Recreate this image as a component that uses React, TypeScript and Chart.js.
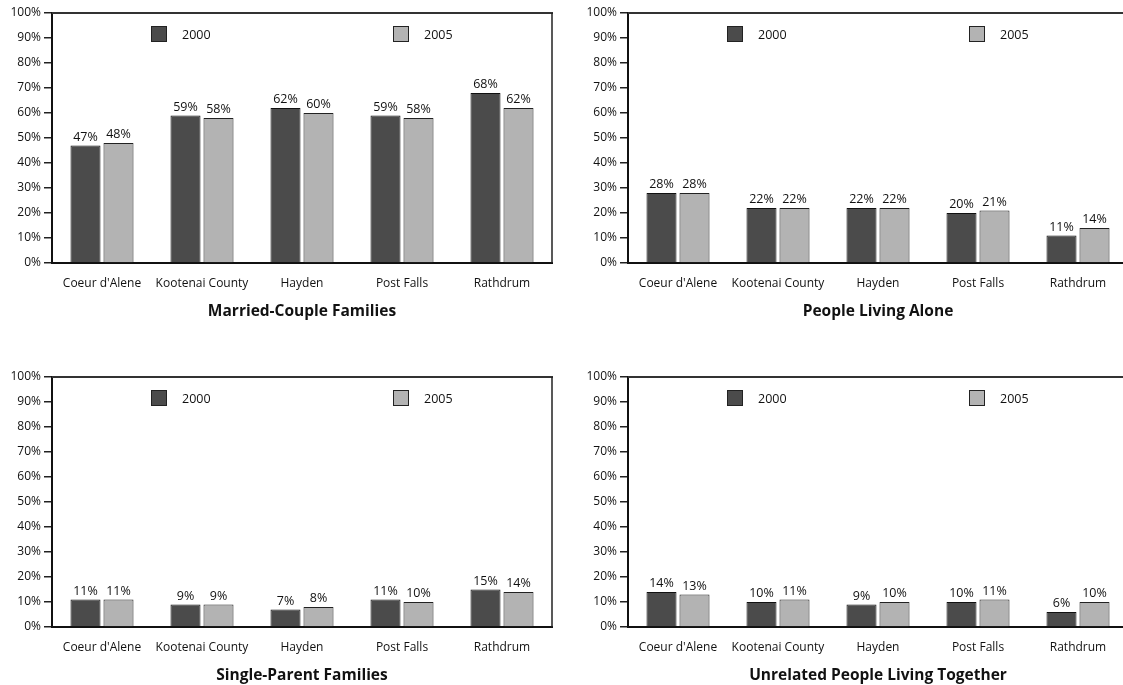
import { useEffect, useRef } from "react";
import { Chart, registerables } from "chart.js";

Chart.register(...registerables);

// Household composition shares by place, 2000 vs 2005
const categories = ["Coeur d'Alene", "Kootenai County", "Hayden", "Post Falls", "Rathdrum"];
const years = ["2000", "2005"];

const marriedCouple2000 = [47, 59, 62, 59, 68];
const marriedCouple2005 = [48, 58, 60, 58, 62];
const livingAlone2000 = [28, 22, 22, 20, 11];
const livingAlone2005 = [28, 22, 22, 21, 14];
const singleParent2000 = [11, 9, 7, 11, 15];
const singleParent2005 = [11, 9, 8, 10, 14];
const unrelated2000 = [14, 10, 9, 10, 6];
const unrelated2005 = [13, 11, 10, 11, 10];

const yMin = 0;
const yMax = 100;
const yStep = 10;

const FONT = "'Open Sans', 'Noto Sans', sans-serif";
const DARK = "#4b4b4b";
const LIGHT = "#b3b3b3";

type PanelSpec = {
  title: string;
  first: number[];
  second: number[];
  left: number;
  top: number;
};

const panels: PanelSpec[] = [
  { title: "Married-Couple Families", first: marriedCouple2000, second: marriedCouple2005, left: 0, top: 0 },
  { title: "People Living Alone", first: livingAlone2000, second: livingAlone2005, left: 576, top: 0 },
  { title: "Single-Parent Families", first: singleParent2000, second: singleParent2005, left: 0, top: 364 },
  { title: "Unrelated People Living Together", first: unrelated2000, second: unrelated2005, left: 576, top: 364 },
];

const CANVAS_W = 575;
const CANVAS_H = 340;

// top and right frame lines of the plot box
const framePlugin = {
  id: "frame",
  afterDraw(chart: any) {
    const { ctx, chartArea } = chart;
    ctx.save();
    ctx.strokeStyle = "#333";
    ctx.lineWidth = 2;
    ctx.beginPath();
    ctx.moveTo(chartArea.left, chartArea.top);
    ctx.lineTo(chartArea.right + 1, chartArea.top);
    ctx.stroke();
    ctx.lineWidth = 1.5;
    ctx.strokeStyle = "#222";
    ctx.beginPath();
    ctx.moveTo(chartArea.right, chartArea.top);
    ctx.lineTo(chartArea.right, chartArea.bottom);
    ctx.stroke();
    ctx.restore();
  },
};

// legend swatches placed inside the plot box
const legendOffsets = [99, 341];
const insideLegendPlugin = {
  id: "insideLegend",
  afterDraw(chart: any) {
    const { ctx, chartArea } = chart;
    ctx.save();
    chart.data.datasets.forEach((ds: any, i: number) => {
      const x = chartArea.left + legendOffsets[i];
      const y = chartArea.top + 13;
      ctx.fillStyle = ds.backgroundColor;
      ctx.fillRect(x, y, 16, 16);
      ctx.strokeStyle = "#222";
      ctx.lineWidth = 1;
      ctx.strokeRect(x + 0.5, y + 0.5, 15, 15);
      ctx.fillStyle = "#111";
      ctx.font = `12.5px ${FONT}`;
      ctx.textAlign = "left";
      ctx.textBaseline = "middle";
      ctx.fillText(ds.label, x + 31, y + 9);
    });
    ctx.restore();
  },
};

// percentage labels above each bar
const valueLabelPlugin = {
  id: "valueLabels",
  afterDatasetsDraw(chart: any) {
    const { ctx } = chart;
    ctx.save();
    ctx.font = `12.5px ${FONT}`;
    ctx.fillStyle = "#111";
    ctx.textAlign = "center";
    ctx.textBaseline = "alphabetic";
    chart.data.datasets.forEach((ds: any, i: number) => {
      const meta = chart.getDatasetMeta(i);
      meta.data.forEach((bar: any, j: number) => {
        ctx.fillText(`${ds.data[j]}%`, bar.x, bar.y - 5);
      });
    });
    ctx.restore();
  },
};

// panel caption under the category labels
const captionPlugin = {
  id: "caption",
  afterDraw(chart: any, _args: any, opts: any) {
    const { ctx, chartArea } = chart;
    ctx.save();
    ctx.font = `bold 15.5px ${FONT}`;
    ctx.fillStyle = "#111";
    ctx.textAlign = "center";
    ctx.textBaseline = "middle";
    ctx.fillText(opts.text, (chartArea.left + chartArea.right) / 2, chartArea.bottom + 48.5);
    ctx.restore();
  },
};

function Panel({ spec }: { spec: PanelSpec }) {
  const ref = useRef<HTMLCanvasElement>(null);

  useEffect(() => {
    if (!ref.current) return;
    const chart = new Chart(ref.current, {
      type: "bar",
      data: {
        labels: categories,
        datasets: [
          {
            label: years[0],
            data: spec.first,
            backgroundColor: DARK,
            borderColor: "#111",
            borderWidth: 1,
            categoryPercentage: 0.66,
            barPercentage: 0.91,
          },
          {
            label: years[1],
            data: spec.second,
            backgroundColor: LIGHT,
            borderColor: "#222",
            borderWidth: 1,
            categoryPercentage: 0.66,
            barPercentage: 0.91,
          },
        ],
      },
      options: {
        responsive: false,
        animation: false,
        devicePixelRatio: 1,
        layout: { padding: { left: 0, top: 13, right: 23, bottom: 0 } },
        plugins: {
          legend: { display: false },
          tooltip: { enabled: false },
          caption: { text: spec.title },
        } as any,
        scales: {
          x: {
            grid: { display: false, drawTicks: false },
            border: { display: true, color: "#111", width: 2 },
            ticks: {
              color: "#111",
              font: { family: FONT, size: 12 },
              padding: 13,
              maxRotation: 0,
              autoSkip: false,
            },
            afterFit(scale: any) {
              scale.height = 77;
            },
          },
          y: {
            min: yMin,
            max: yMax,
            grid: {
              drawOnChartArea: false,
              drawTicks: true,
              tickLength: 8,
              color: "#222",
              lineWidth: 1.5,
            },
            border: { display: true, color: "#111", width: 2 },
            ticks: {
              stepSize: yStep,
              color: "#111",
              font: { family: FONT, size: 12 },
              padding: 3,
              callback: (v: any) => `${v}%`,
            },
            afterFit(scale: any) {
              scale.width = 52;
            },
          },
        },
      },
      plugins: [framePlugin, insideLegendPlugin, valueLabelPlugin, captionPlugin],
    });
    return () => chart.destroy();
  }, [spec]);

  return (
    <canvas
      ref={ref}
      width={CANVAS_W}
      height={CANVAS_H}
      style={{
        position: "absolute",
        left: spec.left,
        top: spec.top,
        width: CANVAS_W,
        height: CANVAS_H,
      }}
    />
  );
}

export default function App() {
  return (
    <div
      style={{
        position: "fixed",
        left: 0,
        top: 0,
        width: 1123,
        height: 685,
        overflow: "hidden",
        background: "#fff",
      }}
    >
      {panels.map((p) => (
        <Panel key={p.title} spec={p} />
      ))}
    </div>
  );
}
